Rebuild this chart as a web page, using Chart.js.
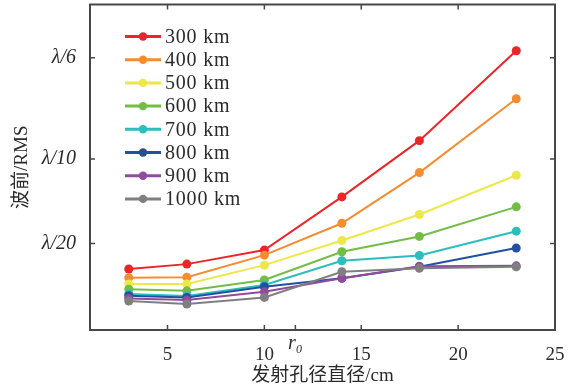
<!DOCTYPE html>
<html>
<head>
<meta charset="utf-8">
<script src="https://cdn.jsdelivr.net/npm/chart.js@4/dist/chart.umd.min.js"></script>
<style>
  html, body { margin: 0; padding: 0; background: #ffffff; }
  #wrap { width: 578px; height: 390px; }
</style>
</head>
<body>
<div id="wrap"><canvas id="c" width="578" height="390"></canvas></div>
<script>
// ---- data ----
const apertures = [3, 6, 10, 14, 18, 23];
const seriesNames = ['300 km', '400 km', '500 km', '600 km', '700 km', '800 km', '900 km', '1000 km'];
const rms300  = [0.0349, 0.0378, 0.0461, 0.0776, 0.1109, 0.1641];
const rms400  = [0.0297, 0.0301, 0.0431, 0.0620, 0.0920, 0.1357];
const rms500  = [0.0260, 0.0260, 0.0372, 0.0518, 0.0672, 0.0904];
const rms600  = [0.0229, 0.0220, 0.0284, 0.0451, 0.0542, 0.0717];
const rms700  = [0.0201, 0.0189, 0.0254, 0.0398, 0.0429, 0.0573];
const rms800  = [0.0191, 0.0181, 0.0244, 0.0295, 0.0362, 0.0473];
const rms900  = [0.0175, 0.0165, 0.0214, 0.0294, 0.0366, 0.0368];
const rms1000 = [0.0159, 0.0142, 0.0181, 0.0333, 0.0353, 0.0362];
const seriesValues = [rms300, rms400, rms500, rms600, rms700, rms800, rms900, rms1000];
const seriesColors = ['#ec2528', '#f58d30', '#ece848', '#72bd45', '#2dbdbd', '#21509f', '#8f4b9c', '#7f7f82'];
const xTickValues = [5, 10, 15, 20, 25];
const r0Value = 11.6;
const r0Label = 'r₀';
const yTickValues = [0.05, 0.10, 0.16];
const yTickLabels = ['λ/20', 'λ/10', 'λ/6'];

const FONT = '"Liberation Serif", "Noto Sans CJK SC", serif';
const TEXT = '#2b2b2b';
const FRAME = '#474747';

const datasets = seriesNames.map((name, i) => ({
  label: name,
  data: apertures.map((x, j) => ({ x: x, y: seriesValues[i][j] })),
  borderColor: seriesColors[i],
  backgroundColor: seriesColors[i],
  borderWidth: 2,
  pointRadius: 4.5,
  pointHoverRadius: 4.5,
  pointBorderWidth: 0,
  pointStyle: 'circle',
  tension: 0,
  order: seriesNames.length - i
}));

const frameTicks = {
  id: 'frameTicks',
  afterDraw(chart) {
    const { ctx, chartArea: a, scales } = chart;
    ctx.save();
    ctx.strokeStyle = FRAME;
    ctx.lineWidth = 2;
    ctx.strokeRect(a.left, a.top, a.right - a.left, a.bottom - a.top);
    ctx.lineWidth = 1.5;
    const L = 5;
    scales.x.ticks.forEach(t => {
      const px = scales.x.getPixelForValue(t.value);
      ctx.beginPath();
      ctx.moveTo(px, a.bottom); ctx.lineTo(px, a.bottom - L);
      if (t.value !== r0Value) { ctx.moveTo(px, a.top); ctx.lineTo(px, a.top + L); }
      ctx.stroke();
    });
    scales.y.ticks.forEach(t => {
      const py = scales.y.getPixelForValue(t.value);
      ctx.beginPath();
      ctx.moveTo(a.left, py); ctx.lineTo(a.left + L, py);
      ctx.moveTo(a.right, py); ctx.lineTo(a.right - L, py);
      ctx.stroke();
    });
    ctx.restore();
  }
};

const lineLegend = {
  id: 'lineLegend',
  afterDraw(chart) {
    const { ctx, chartArea: a } = chart;
    ctx.save();
    chart.data.datasets.forEach((ds, i) => {
      const y = a.top + 32 + i * 23.2;
      const x0 = a.left + 35, x1 = a.left + 71;
      ctx.strokeStyle = ds.borderColor;
      ctx.lineWidth = 3;
      ctx.beginPath(); ctx.moveTo(x0, y); ctx.lineTo(x1, y); ctx.stroke();
      ctx.fillStyle = ds.borderColor;
      ctx.beginPath(); ctx.arc((x0 + x1) / 2, y, 4.2, 0, Math.PI * 2); ctx.fill();
      ctx.fillStyle = TEXT;
      ctx.font = '20px ' + FONT;
      ctx.textBaseline = 'middle';
      ctx.textAlign = 'left';
      if ('letterSpacing' in ctx) ctx.letterSpacing = '0.8px';
      ctx.fillText(ds.label, a.left + 75, y + 1);
    });
    ctx.restore();
  }
};

new Chart(document.getElementById('c'), {
  type: 'line',
  data: { datasets },
  options: {
    responsive: false,
    animation: false,
    layout: { padding: { top: 4, right: 23, left: 0, bottom: 0 } },
    plugins: { legend: { display: false }, tooltip: { enabled: false } },
    scales: {
      x: {
        type: 'linear',
        min: 1, max: 25,
        grid: { display: false },
        border: { display: false },
        afterBuildTicks(scale) {
          const list = xTickValues.map(v => ({ value: v }));
          list.splice(2, 0, { value: r0Value });
          scale.ticks = list;
        },
        afterFit(scale) { scale.height = 60; scale.paddingLeft = 0; scale.paddingRight = 0; },
        ticks: {
          color: TEXT,
          padding: 6,
          maxRotation: 0,
          autoSkip: false,
          font: (c) => (c.tick && c.tick.value === r0Value)
            ? { family: FONT, size: 20, style: 'italic', lineHeight: 0.02 }
            : { family: FONT, size: 19 },
          callback: (v) => v === r0Value ? r0Label : String(v)
        },
        title: {
          display: true,
          text: '发射孔径直径/cm',
          color: TEXT,
          font: { family: FONT, size: 19 },
          padding: { top: 0, bottom: 3 }
        }
      },
      y: {
        type: 'linear',
        min: -0.0012, max: 0.1915,
        grid: { display: false },
        border: { display: false },
        afterBuildTicks(scale) { scale.ticks = yTickValues.map(v => ({ value: v })); },
        afterFit(scale) { scale.width = 90; scale.paddingTop = 0; scale.paddingBottom = 0; },
        ticks: {
          color: TEXT,
          padding: 6,
          font: { family: FONT, size: 20, style: 'italic' },
          callback: (v) => {
            const k = yTickValues.findIndex(t => Math.abs(t - v) < 1e-9);
            return k >= 0 ? yTickLabels[k] : '';
          }
        },
        title: {
          display: true,
          text: '波前/RMS',
          color: TEXT,
          font: { family: FONT, size: 19 },
          padding: { top: 11, bottom: 0 }
        }
      }
    }
  },
  plugins: [frameTicks, lineLegend]
});
</script>
</body>
</html>
